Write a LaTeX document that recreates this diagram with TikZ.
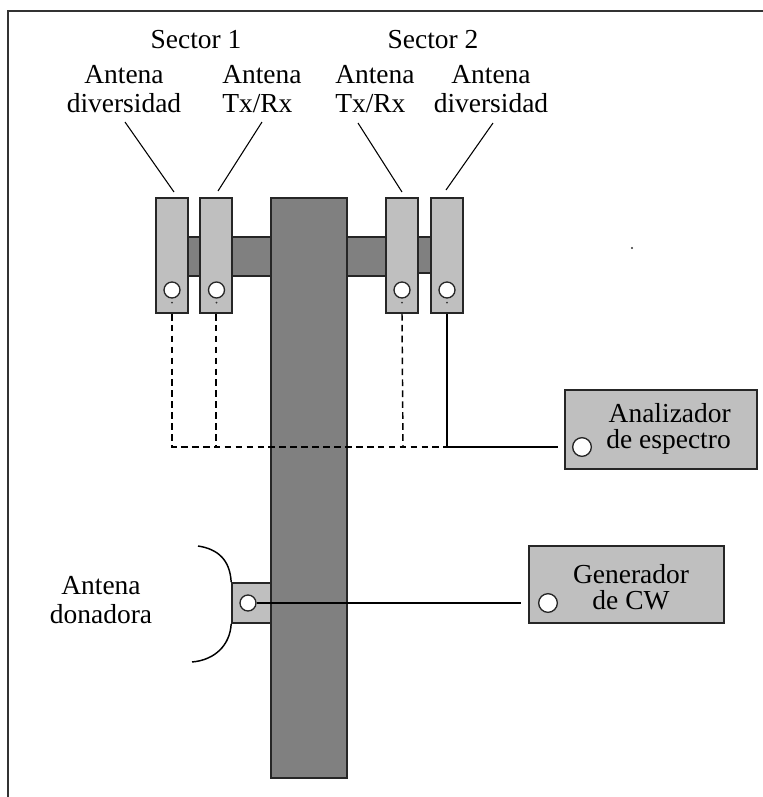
\documentclass[tikz,border=0pt]{standalone}
\usepackage{fontspec}
\setmainfont{Liberation Serif}
\usetikzlibrary{positioning}

\begin{document}
\begin{tikzpicture}[
    x=0.75pt, y=-0.75pt,
    font=\fontsize{20.6}{21.5}\selectfont,
    antena/.style={draw=black!85, fill=black!25, line width=1.5pt, minimum width=24pt, minimum height=86pt, inner sep=0pt},
    torre/.style={draw=black!85, fill=black!50, line width=1.5pt, inner sep=0pt},
    equipo/.style={draw=black!85, fill=black!25, line width=1.5pt, inner sep=0pt},
    puerto/.style={circle, draw=black!85, fill=white, line width=1pt, minimum size=12pt, inner sep=0pt},
    puertog/.style={puerto, minimum size=14pt},
    rotulo/.style={align=center, inner sep=0pt},
    linea/.style={line width=1.1pt},
    discontinua/.style={line width=1.1pt, dash pattern=on 5pt off 3.2pt}
]
\useasboundingbox (0,0) rectangle (763,797);

% marco
\coordinate (m1) at (8,797);
\coordinate (m2) at (8,11);
\coordinate (m3) at (763,11);
\draw[line width=1.9pt, draw=black!80] (m1) -- (m2) -- (m3);

% brazos y torre
\node[torre, minimum width=83pt*0.75, minimum height=39pt*0.75] (b1) at (229.5,256.5) {};
\node[torre, minimum width=71pt*0.75, minimum height=39pt*0.75] (b2) at (382.5,256.5) {};
\node[torre, minimum width=20pt*0.75, minimum height=36pt*0.75] (b3) at (424.5,255) {};
\node[torre, minimum width=57pt, minimum height=435pt] (mast) at (309,488) {};

% antenas
\node[antena] (a1) at (172,255.5) {};
\node[antena] (a2) at (216,255.5) {};
\node[antena] (a3) at (402,255.5) {};
\node[antena] (a4) at (447,255.5) {};
\node[puerto] (p1) at (172,290) {};
\node[puerto] (p2) at (216.5,290) {};
\node[puerto] (p3) at (402,290) {};
\node[puerto] (p4) at (447,290) {};
\foreach \i in {p1,p2,p3,p4}
  \fill[black!80] (\i.south) ++(0,4) circle (0.8pt);

% antena donadora
\node[equipo, minimum width=29pt, minimum height=30pt] (don) at (251.5,603) {};
\node[puerto] (p5) at (248,603) {};
\coordinate (d1) at (198,546);
\coordinate (d2) at (192,662);
\draw[linea] (d1) .. controls (218,549) and (230,560) .. (don.north west);
\draw[linea] (don.south west) .. controls (230,645) and (215,660) .. (d2);

% equipos
\node[equipo, minimum width=144pt, minimum height=59pt] (ana) at (661,429.5) {};
\node[equipo, minimum width=146pt, minimum height=58pt] (gen) at (626.5,584.5) {};
\node[puertog] (p6) at (582,447) {};
\node[puertog] (p7) at (548,603) {};

% conexiones
\coordinate (c1) at (216,447);
\coordinate (c2) at (403,447);
\coordinate (c3) at (447,447);
\coordinate (c4) at (558,447);
\coordinate (c5) at (521,603);
\draw[discontinua] (a1.south) |- (c3);
\foreach \i/\j in {a2/c1, a3/c2}
  \draw[discontinua] (\i.south) -- (\j);
\draw[linea] (a4.south) -- (c3) -- (c4);
\draw[linea] (p5.east) -- (c5);

% guias
\coordinate (g1) at (125,122);
\coordinate (g2) at (262,122);
\coordinate (g3) at (358,123);
\coordinate (g4) at (493,123);
\coordinate (g5) at (174,192);
\coordinate (g6) at (218,191);
\coordinate (g7) at (402,192);
\coordinate (g8) at (446,190);
\foreach \i/\j in {g1/g5, g2/g6, g3/g7, g4/g8}
  \draw[line width=0.8pt] (\i) -- (\j);

% textos
\node[rotulo] (t1) at (196,40) {Sector 1};
\node[rotulo] (t2) at (433,40) {Sector 2};
\node[rotulo] (t3) at (124,89) {Antena\\diversidad};
\node[rotulo, align=left, anchor=west] (t4) at (222,89) {Antena\\Tx/Rx};
\node[rotulo, align=left, anchor=west] (t5) at (335,89) {Antena\\Tx/Rx};
\node[rotulo] (t6) at (491,89) {Antena\\diversidad};
\node[rotulo, align=right, anchor=east] (t7) at (731,429) {Analizador\\[-2pt]de espectro};
\node[rotulo] (t8) at (631,587) {Generador\\[-2pt]de CW};
\node[rotulo] (t9) at (101,600) {Antena\\donadora};

% punto suelto
\coordinate (s1) at (632,248);
\fill[black!80] (s1) circle (0.8pt);
\end{tikzpicture}
\end{document}
